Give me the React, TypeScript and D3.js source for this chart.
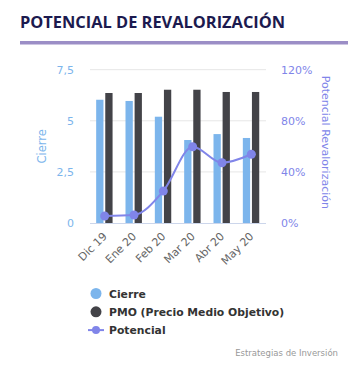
import { useEffect, useRef } from "react";
import * as d3 from "d3";

const categories = ["Dic 19", "Ene 20", "Feb 20", "Mar 20", "Abr 20", "May 20"];
const cierre = [6.03, 5.97, 5.2, 4.06, 4.35, 4.16];
const pmo = [6.36, 6.36, 6.52, 6.52, 6.41, 6.41];
const potencial = [5.5, 6.3, 25, 59.7, 47.2, 53.8];
const leftTicks = [0, 2.5, 5, 7.5];
const rightTicks = [0, 40, 80, 120];

const W = 361;
const H = 384;
const left = 90;
const right = 266;
const top = 69.7;
const bottom = 223;

export default function App() {
  const ref = useRef<SVGSVGElement>(null);

  useEffect(() => {
    const svg = d3.select(ref.current);
    svg.selectAll("*").remove();

    const x = d3.scaleBand<string>().domain(categories).range([left, right]);
    const y = d3.scaleLinear().domain([0, 7.5]).range([bottom, top]);
    const y2 = d3.scaleLinear().domain([0, 120]).range([bottom, top]);
    const font = "'DejaVu Sans', sans-serif";

    // title
    svg
      .append("text")
      .attr("x", 20)
      .attr("y", 28)
      .attr("font-family", "'Open Sans', sans-serif")
      .attr("font-weight", 700)
      .attr("font-size", 16.4)
      .attr("fill", "#1c1a4f")
      .text("POTENCIAL DE REVALORIZACIÓN");
    svg.append("rect").attr("x", 20).attr("y", 41).attr("width", 328).attr("height", 3.5).attr("fill", "#9b8ec6");

    // grid
    svg
      .selectAll("line.grid")
      .data(leftTicks.slice(1))
      .join("line")
      .attr("class", "grid")
      .attr("x1", left)
      .attr("x2", right)
      .attr("y1", (d) => y(d))
      .attr("y2", (d) => y(d))
      .attr("stroke", "#e6e6e6");

    // left ticks
    svg
      .selectAll("text.lt")
      .data(leftTicks)
      .join("text")
      .attr("class", "lt")
      .attr("x", 74)
      .attr("y", (d) => y(d) + 4)
      .attr("text-anchor", "end")
      .attr("font-family", font)
      .attr("font-size", 11)
      .attr("fill", "#7cb5ec")
      .text((d) => d3.format("")(d).replace(".", ","));

    svg
      .append("text")
      .attr("transform", `translate(46,${(top + bottom) / 2}) rotate(-90)`)
      .attr("text-anchor", "middle")
      .attr("font-family", font)
      .attr("font-size", 11.5)
      .attr("fill", "#7cb5ec")
      .text("Cierre");

    // right ticks
    svg
      .selectAll("text.rt")
      .data(rightTicks)
      .join("text")
      .attr("class", "rt")
      .attr("x", 281)
      .attr("y", (d) => y2(d) + 4)
      .attr("font-family", font)
      .attr("font-size", 11)
      .attr("fill", "#8085e9")
      .text((d) => d + "%");

    svg
      .append("text")
      .attr("transform", `translate(322,${(top + bottom) / 2 - 4}) rotate(90)`)
      .attr("text-anchor", "middle")
      .attr("font-family", font)
      .attr("font-size", 11)
      .attr("fill", "#8085e9")
      .text("Potencial Revalorización");

    // bars
    const bw = 7.3;
    svg
      .selectAll("rect.cierre")
      .data(cierre)
      .join("rect")
      .attr("class", "cierre")
      .attr("x", (_, i) => (x(categories[i]) || 0) + x.bandwidth() / 2 - bw - 1.2)
      .attr("y", (d) => y(d))
      .attr("width", bw)
      .attr("height", (d) => bottom - y(d))
      .attr("fill", "#7cb5ec");
    svg
      .selectAll("rect.pmo")
      .data(pmo)
      .join("rect")
      .attr("class", "pmo")
      .attr("x", (_, i) => (x(categories[i]) || 0) + x.bandwidth() / 2 + 0.6)
      .attr("y", (d) => y(d))
      .attr("width", bw)
      .attr("height", (d) => bottom - y(d))
      .attr("fill", "#434348");

    // x axis line
    svg.append("line").attr("x1", left).attr("x2", right).attr("y1", bottom + 0.5).attr("y2", bottom + 0.5).attr("stroke", "#ccd6eb");

    // x labels
    svg
      .selectAll("text.xl")
      .data(categories)
      .join("text")
      .attr("class", "xl")
      .attr("transform", (d) => `translate(${(x(d) || 0) + x.bandwidth() / 2 + 3},${bottom + 14}) rotate(-45)`)
      .attr("text-anchor", "end")
      .attr("font-family", font)
      .attr("font-size", 11)
      .attr("fill", "#666666")
      .text((d) => d);

    // line
    const line = d3
      .line<number>()
      .x((_, i) => (x(categories[i]) || 0) + x.bandwidth() / 2)
      .y((d) => y2(d))
      .curve(d3.curveMonotoneX);
    svg.append("path").attr("d", line(potencial)).attr("fill", "none").attr("stroke", "#8085e9").attr("stroke-width", 2);
    svg
      .selectAll("circle.pt")
      .data(potencial)
      .join("circle")
      .attr("class", "pt")
      .attr("cx", (_, i) => (x(categories[i]) || 0) + x.bandwidth() / 2)
      .attr("cy", (d) => y2(d))
      .attr("r", 4.5)
      .attr("fill", "#8085e9");

    // legend
    const legend = [
      { name: "Cierre", color: "#7cb5ec", line: false },
      { name: "PMO (Precio Medio Objetivo)", color: "#434348", line: false },
      { name: "Potencial", color: "#8085e9", line: true },
    ];
    const lg = svg
      .selectAll("g.lg")
      .data(legend)
      .join("g")
      .attr("class", "lg")
      .attr("transform", (_, i) => `translate(96,${293.5 + i * 18.3})`);
    lg.filter((d) => d.line)
      .append("line")
      .attr("x1", -8)
      .attr("x2", 8)
      .attr("stroke", (d) => d.color)
      .attr("stroke-width", 2);
    lg.append("circle")
      .attr("r", (d) => (d.line ? 4 : 5.5))
      .attr("fill", (d) => d.color);
    lg.append("text")
      .attr("x", 13)
      .attr("y", 4.2)
      .attr("font-family", font)
      .attr("font-weight", 700)
      .attr("font-size", 10.8)
      .attr("fill", "#333333")
      .text((d) => d.name);

    svg
      .append("text")
      .attr("x", 338)
      .attr("y", 356)
      .attr("text-anchor", "end")
      .attr("font-family", font)
      .attr("font-size", 8.5)
      .attr("fill", "#999999")
      .text("Estrategias de Inversión");
  }, []);

  return (
    <div style={{ position: "fixed", left: 0, top: 0, background: "#fff" }}>
      <svg ref={ref} width={W} height={H} style={{ display: "block" }} />
    </div>
  );
}
